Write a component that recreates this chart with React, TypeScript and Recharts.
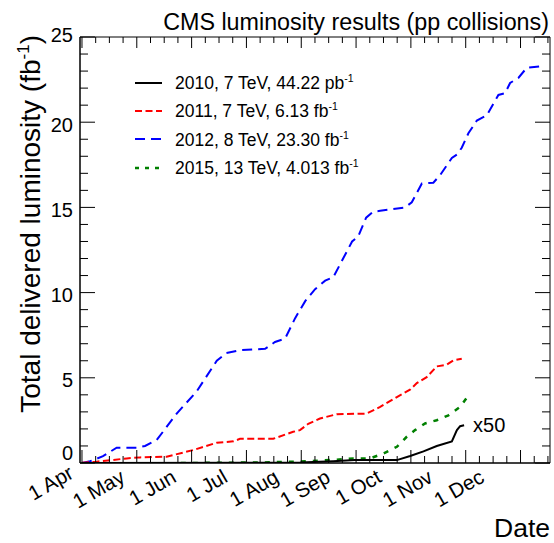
import React from "react";
import { LineChart, Line, XAxis, YAxis, Legend, Label, ReferenceArea, ReferenceDot } from "recharts";

// x values: days since 1 April; y values: delivered luminosity (fb^-1)
const days2010 = [0, 93.5, 121.3, 139.7, 151.9, 175.2, 182.6, 190, 197.4, 205.8, 208.6, 210.4, 212.6];
const lumi2010x50 = [0, 0.01, 0.03, 0.1, 0.17, 0.17, 0.41, 0.68, 1.0, 1.27, 1.93, 2.16, 2.22];

const days2011 = [0, 8.2, 17.4, 24.9, 32.3, 47.1, 61.9, 75.0, 84.2, 87.9, 106.4, 117.5, 121.3, 125.9, 132.4, 141.7, 158.4, 165.9, 175.2, 182.5, 186.3, 191.8, 197.4, 202.9, 206.6, 211.3];
const lumi2011 = [0.02, 0.08, 0.18, 0.27, 0.33, 0.37, 0.76, 1.19, 1.27, 1.42, 1.42, 1.83, 1.93, 2.3, 2.61, 2.86, 2.9, 3.29, 3.87, 4.3, 4.69, 5.04, 5.67, 5.77, 6.02, 6.12];

const days2012 = [0, 4.5, 11.7, 19.3, 30.4, 35.1, 41.6, 52.7, 63.8, 75.0, 80.2, 88.0, 101.9, 107.4, 113.0, 118.6, 124.2, 129.7, 135.3, 139.8, 145.3, 150.3, 153.7, 158.1, 162.0, 165.9, 179.8, 183.5, 189.1, 195.5, 199.3, 205.8, 208.6, 211.3, 215.0, 219.7, 225.2, 231.7, 235.4, 238.2, 242.8, 247.5, 256.8];
const lumi2012 = [0, 0.1, 0.4, 0.9, 0.9, 1.0, 1.35, 2.9, 4.2, 6.0, 6.45, 6.62, 6.7, 7.1, 7.3, 8.5, 9.5, 10.2, 10.7, 10.9, 12.0, 13.0, 13.3, 14.4, 14.75, 14.8, 15.0, 15.3, 16.4, 16.45, 16.9, 17.9, 18.1, 18.5, 19.35, 20.1, 20.4, 21.6, 21.7, 22.3, 22.6, 23.2, 23.3];

const days2015 = [55, 99.0, 111.9, 121.3, 139.8, 150.9, 160.3, 167.7, 175.2, 180.7, 185.3, 190.9, 197.4, 203.9, 210.4, 215.0];
const lumi2015 = [0, 0.03, 0.06, 0.08, 0.18, 0.27, 0.27, 0.56, 0.95, 1.54, 1.93, 2.32, 2.51, 2.8, 3.29, 3.97];

const MONTH_LABELS = ["1 Apr", "1 May", "1 Jun", "1 Jul", "1 Aug", "1 Sep", "1 Oct", "1 Nov", "1 Dec"];
const X_DOMAIN: [number, number] = [-1.1, 260.4];
const MINOR_STEP = 7.625;
const X_TICKS = Array.from({ length: 35 }, (_, k) => k * MINOR_STEP);
const Y_TICKS = Array.from({ length: 26 }, (_, k) => k);

const LEGEND_ITEMS = [
  { label: "2010, 7 TeV, 44.22 pb", color: "#000000", dash: "", width: 2 },
  { label: "2011, 7 TeV, 6.13 fb", color: "#ff0000", dash: "7 3.5", width: 2 },
  { label: "2012, 8 TeV, 23.30 fb", color: "#0000ff", dash: "10 6", width: 2 },
  { label: "2015, 13 TeV, 4.013 fb", color: "#008000", dash: "4 6", width: 2.5 },
];

const zip = (xs: number[], ys: number[]) => xs.map((d, i) => ({ day: d, v: ys[i] }));
const s2010 = zip(days2010, lumi2010x50);
const s2011 = zip(days2011, lumi2011);
const s2012 = zip(days2012, lumi2012);
const s2015 = zip(days2015, lumi2015);

const FONT = "'Liberation Sans', Arial, Helvetica, sans-serif";
const PL = 80, PR = 550, PT = 37, PB = 463;

function XTick(props: any) {
  const { x, payload } = props;
  const k = Math.round(payload.value / MINOR_STEP);
  const major = k % 4 === 0;
  const lb = major ? 13 : 7;
  const lt = major ? 11 : 6;
  const i = k / 4;
  const lx = x - 7 - 3.5 * i;
  const ly = i === 0 ? 477 : 481;
  return (
    <g>
      <line x1={x} x2={x} y1={PB} y2={PB - lb} stroke="#000" strokeWidth={1} />
      <line x1={x} x2={x} y1={PT} y2={PT + lt} stroke="#000" strokeWidth={1} />
      {major && MONTH_LABELS[i] ? (
        <text x={lx} y={ly} transform={`rotate(-30 ${lx} ${ly})`} textAnchor="end" fontSize={20.5} fontFamily={FONT} fill="#000">
          {MONTH_LABELS[i]}
        </text>
      ) : null}
    </g>
  );
}

function YTick(props: any) {
  const { y, payload } = props;
  const v = payload.value;
  const major = v % 5 === 0;
  const len = major ? 15 : 8;
  const shift = v === 0 ? -10 : v === 25 ? -2 : 2.5;
  return (
    <g>
      <line x1={PL} x2={PL + len} y1={y} y2={y} stroke="#000" strokeWidth={1} />
      <line x1={PR} x2={PR - len} y1={y} y2={y} stroke="#000" strokeWidth={1} />
      {major ? (
        <text x={73} y={y + shift} dy="0.355em" textAnchor="end" fontSize={20} fontFamily={FONT} fill="#000">
          {v}
        </text>
      ) : null}
    </g>
  );
}

function LegendBox() {
  return (
    <div style={{ fontFamily: FONT, fontSize: 17.5, color: "#000" }}>
      {LEGEND_ITEMS.map((it) => (
        <div key={it.label} style={{ display: "flex", alignItems: "center", height: 28.2, whiteSpace: "nowrap" }}>
          <svg width={27} height={10} style={{ marginRight: 13 }}>
            <line x1={0} x2={27} y1={5} y2={5} stroke={it.color} strokeWidth={it.width} strokeDasharray={it.dash || undefined} />
          </svg>
          <span>
            {it.label}
            <sup style={{ fontSize: "60%" }}>-1</sup>
          </span>
        </div>
      ))}
    </div>
  );
}

export default function App() {
  return (
    <div style={{ position: "absolute", left: 0, top: 0, width: 554, height: 543, background: "#fff" }}>
      <LineChart width={554} height={543} margin={{ top: 37, right: 4, bottom: 0, left: 0 }}>
        <XAxis
          dataKey="day"
          type="number"
          domain={X_DOMAIN}
          ticks={X_TICKS}
          interval={0}
          tickSize={0}
          tickMargin={0}
          tick={<XTick />}
          height={80}
          allowDataOverflow
          axisLine={{ stroke: "#000" }}
        >
          <Label
            content={() => (
              <g>
                <text x={550} y={537} textAnchor="end" fontSize={26.5} fontFamily={FONT} fill="#000">Date</text>
                <text x={549} y={30} textAnchor="end" fontSize={23.3} fontFamily={FONT} fill="#000">CMS luminosity results (pp collisions)</text>
              </g>
            )}
          />
        </XAxis>
        <YAxis
          type="number"
          domain={[0, 25]}
          ticks={Y_TICKS}
          interval={0}
          tickSize={0}
          tickMargin={0}
          tick={<YTick />}
          width={80}
          allowDataOverflow
          axisLine={{ stroke: "#000" }}
        >
          <Label
            content={() => (
              <text x={40} y={35} transform="rotate(-90 40 35)" textAnchor="end" fontSize={28} fontFamily={FONT} fill="#000">
                Total delivered luminosity (fb
                <tspan fontSize={17} dy={-11}>-1</tspan>
                <tspan dy={11}>)</tspan>
              </text>
            )}
          />
        </YAxis>
        <ReferenceArea x1={X_DOMAIN[0]} x2={X_DOMAIN[1]} y1={0} y2={25} fill="none" stroke="#000" strokeWidth={1} ifOverflow="visible" />
        <Legend
          layout="vertical"
          align="center"
          verticalAlign="middle"
          content={() => <LegendBox />}
          wrapperStyle={{ left: 135, top: 69, width: 260 }}
        />
        <Line data={s2012} dataKey="v" type="linear" stroke="#0000ff" strokeWidth={2} strokeDasharray="10 6" dot={false} isAnimationActive={false} />
        <Line data={s2011} dataKey="v" type="linear" stroke="#ff0000" strokeWidth={2} strokeDasharray="7 3.5" dot={false} isAnimationActive={false} />
        <Line data={s2015} dataKey="v" type="linear" stroke="#008000" strokeWidth={2.5} strokeDasharray="5 7" dot={false} isAnimationActive={false} />
        <Line data={s2010} dataKey="v" type="linear" stroke="#000000" strokeWidth={2} dot={false} isAnimationActive={false} />
        <ReferenceDot
          x={days2010[days2010.length - 1]}
          y={lumi2010x50[lumi2010x50.length - 1]}
          r={0}
          fill="none"
          stroke="none"
          label={{ value: "x50", position: "right", offset: 9, fontSize: 20, fontFamily: FONT, fill: "#000" }}
        />
      </LineChart>
    </div>
  );
}
